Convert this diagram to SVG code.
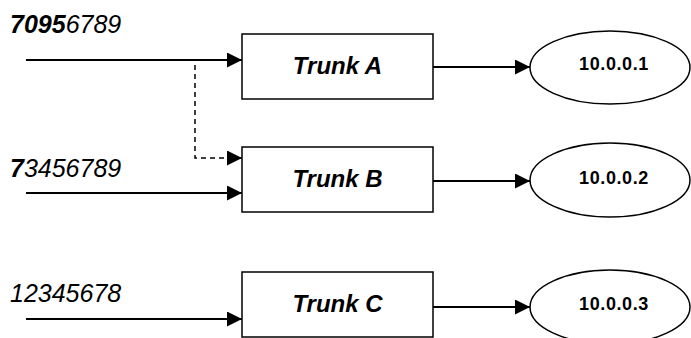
<svg xmlns="http://www.w3.org/2000/svg" width="691" height="338" viewBox="0 0 691 338">
<defs>
<marker id="arr" markerUnits="userSpaceOnUse" markerWidth="16" markerHeight="16" refX="15" refY="7.5" orient="auto">
<path d="M0,0 L15,7.5 L0,15 z" fill="#000"/>
</marker>
<style>
.box{fill:#fff;stroke:#000;stroke-width:1.5}
.ell{fill:#fff;stroke:#000;stroke-width:1.5}
.ln{stroke:#000;stroke-width:2;fill:none;marker-end:url(#arr)}
.dash{stroke:#000;stroke-width:1.5;fill:none;stroke-dasharray:5,4;marker-end:url(#arr)}
.num{font-family:"Liberation Sans",Arial,sans-serif;font-style:italic;font-size:25px;fill:#000}
.trk{font-family:"Liberation Sans",Arial,sans-serif;font-style:italic;font-weight:bold;font-size:24px;text-anchor:middle;fill:#000}
.ip{font-family:"Liberation Sans",Arial,sans-serif;font-weight:bold;font-size:18px;letter-spacing:0.6px;text-anchor:middle;fill:#000}
</style>
</defs>
<rect width="691" height="338" fill="#fff"/>
<g id="labels">
<text class="num" x="10" y="33"><tspan font-weight="bold">7095</tspan>6789</text>
<text class="num" x="10" y="177"><tspan font-weight="bold">7</tspan>3456789</text>
<text class="num" x="10" y="302">12345678</text>
</g>
<g id="connectors">
<line class="ln" x1="26" y1="60" x2="242" y2="60"/>
<line class="ln" x1="26" y1="193" x2="242" y2="193"/>
<line class="ln" x1="26" y1="319" x2="242" y2="319"/>
<path class="dash" d="M195,65 L195,158 L242,158"/>
<line class="ln" x1="433" y1="67" x2="530" y2="67"/>
<line class="ln" x1="433" y1="181" x2="530" y2="181"/>
<line class="ln" x1="433" y1="307" x2="530" y2="307"/>
</g>
<g id="trunkA">
<rect class="box" x="242" y="34" width="191" height="65"/>
<text class="trk" x="337.5" y="74">Trunk A</text>
</g>
<g id="trunkB">
<rect class="box" x="242" y="147" width="191" height="65"/>
<text class="trk" x="337.5" y="187">Trunk B</text>
</g>
<g id="trunkC">
<rect class="box" x="242" y="272" width="191" height="65"/>
<text class="trk" x="337.5" y="312">Trunk C</text>
</g>
<g id="ip1">
<ellipse class="ell" cx="610" cy="67.5" rx="80" ry="36.5"/>
<text class="ip" x="614" y="70">10.0.0.1</text>
</g>
<g id="ip2">
<ellipse class="ell" cx="610" cy="180" rx="80" ry="37"/>
<text class="ip" x="614" y="184">10.0.0.2</text>
</g>
<g id="ip3">
<ellipse class="ell" cx="610" cy="307" rx="80" ry="37"/>
<text class="ip" x="614" y="310">10.0.0.3</text>
</g>
</svg>
